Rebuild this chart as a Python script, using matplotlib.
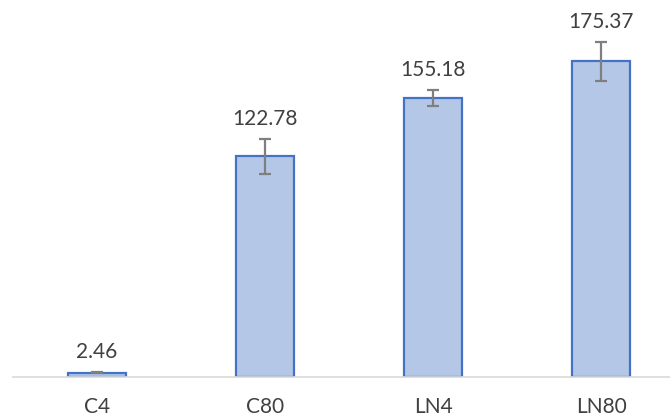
import numpy as np
import matplotlib
matplotlib.use('Agg')
import matplotlib.pyplot as plt

plt.rcParams['font.family'] = ['Lato', 'DejaVu Sans']

groups = ['C4', 'C80', 'LN4', 'LN80']
means = [2.46, 122.78, 155.18, 175.37]
errors = [0.3, 9.7, 4.5, 10.8]

fig = plt.figure(figsize=(6.7, 4.19), dpi=100)
ax = fig.add_axes([13 / 670, 0.1, 672 / 670, 360 / 419])

x = np.arange(len(groups))
ax.bar(x, means, width=0.34, color='#b4c7e7', edgecolor='#4472c4', linewidth=1.6, zorder=2)
ax.errorbar(x, means, yerr=errors, fmt='none', ecolor='#7f7f7f',
            elinewidth=1.6, capsize=4.5, capthick=1.6, zorder=3)

# value labels sit just above the error bars
for xi, m, e in zip(x, means, errors):
    ax.annotate(f'{m:.2f}', (xi, m + e), xytext=(0, 10), textcoords='offset points',
                ha='center', va='baseline', fontsize=15, color='#404040')

ax.set_xlim(-0.5, 3.5)
ax.set_ylim(0, 200)
ax.set_xticks(x)
ax.set_xticklabels(groups, fontsize=15, color='#404040')
ax.tick_params(axis='x', length=0, pad=14)
ax.set_yticks([])
for side in ['top', 'right', 'left']:
    ax.spines[side].set_visible(False)
ax.spines['bottom'].set_color('#d9d9d9')
ax.spines['bottom'].set_linewidth(1.2)

fig.savefig('out.png', dpi=100)
